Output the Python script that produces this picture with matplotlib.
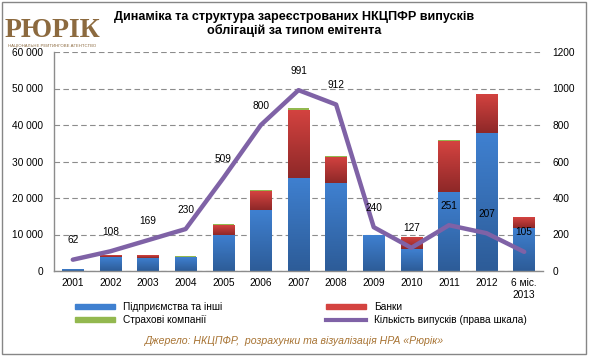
import numpy as np
import matplotlib
matplotlib.use("Agg")
import matplotlib.pyplot as plt
from matplotlib.colors import LinearSegmentedColormap
from matplotlib.patches import Rectangle
from matplotlib.lines import Line2D

plt.rcParams['font.family'] = ['Liberation Sans', 'DejaVu Sans']

# data
years = ['2001', '2002', '2003', '2004', '2005', '2006', '2007',
         '2008', '2009', '2010', '2011', '2012', '6 міс.\n2013']
firms = [450, 3800, 3650, 3700, 9900, 16700, 25500, 24000, 9800, 6000, 21600, 37700, 11800]
banks = [200, 500, 600, 250, 2700, 5200, 18700, 7200, 0, 3300, 13900, 10900, 3000]
insurers = [0, 100, 150, 150, 250, 300, 400, 350, 0, 0, 300, 0, 0]
issues = [62, 108, 169, 230, 509, 800, 991, 912, 240, 127, 251, 207, 105]

left_ticks = [0, 10000, 20000, 30000, 40000, 50000, 60000]
left_labels = ['0', '10 000', '20 000', '30 000', '40 000', '50 000', '60 000']
right_ticks = [0, 200, 400, 600, 800, 1000, 1200]

BLUE_TOP, BLUE_BOT = '#3F80D0', '#2D5C98'
RED_TOP, RED_BOT = '#D44340', '#8E2828'
GREEN = '#93B84F'
PURPLE = '#7F62A6'
BROWN = '#8C6A3F'
FS = 7.3


def gradient_bars(ax, bars, c_top, c_bot):
    cmap = LinearSegmentedColormap.from_list('g', [c_bot, c_top])
    for b in bars:
        x, y, w, h = b.get_x(), b.get_y(), b.get_width(), b.get_height()
        if h <= 0:
            continue
        im = ax.imshow(np.linspace(0, 1, 64).reshape(-1, 1), extent=[x, x + w, y, y + h],
                       origin='lower', cmap=cmap, aspect='auto', zorder=2)
        im.set_clip_path(b)
        b.set_facecolor('none')


fig = plt.figure(figsize=(5.89, 3.63), dpi=100)
ax = fig.add_axes([54 / 589, 1 - 271 / 363, (543 - 54) / 589, (271 - 52) / 363])

x = np.arange(len(years))
w = 0.57
firms = np.array(firms)
banks = np.array(banks)
insurers = np.array(insurers)

b1 = ax.bar(x, firms, w, color=BLUE_TOP, zorder=2, linewidth=0)
b2 = ax.bar(x, banks, w, bottom=firms, color=RED_TOP, zorder=2, linewidth=0)
b3 = ax.bar(x, insurers, w, bottom=firms + banks, color=GREEN, zorder=2, linewidth=0)
gradient_bars(ax, b1, BLUE_TOP, BLUE_BOT)
gradient_bars(ax, b2, RED_TOP, RED_BOT)

ax.set_xlim(-0.5, len(years) - 0.5)
ax.set_ylim(0, 60000)
ax.set_yticks(left_ticks)
ax.set_yticklabels(left_labels)
ax.set_xticks(x)
ax.set_xticklabels(years)
ax.tick_params(axis='y', length=0, pad=8, labelsize=FS)
ax.tick_params(axis='x', length=0, pad=5, labelsize=FS)
ax.grid(axis='y', color='#8c8c8c', linestyle=(0, (5, 3)), linewidth=0.8, zorder=0)
ax.set_axisbelow(True)
for s in ['top', 'right']:
    ax.spines[s].set_visible(False)
for s in ['left', 'bottom']:
    ax.spines[s].set_color('#8c8c8c')
    ax.spines[s].set_linewidth(1)

ax2 = ax.twinx()
ax2.plot(x, issues, color=PURPLE, lw=3.2, solid_joinstyle='round', solid_capstyle='round', zorder=3)
for i, v in enumerate(issues):
    ax2.annotate(str(v), (i, v), xytext=(0, 14), textcoords='offset points',
                 ha='center', va='center', fontsize=FS)
ax2.set_ylim(0, 1200)
ax2.set_yticks(right_ticks)
ax2.tick_params(axis='y', length=0, pad=7, labelsize=FS)
for s in ax2.spines.values():
    s.set_visible(False)

# title
fig.text(294 / 589, 1 - 24 / 363, 'Динаміка та структура зареєстрованих НКЦПФР випусків\nоблігацій за типом емітента',
         ha='center', va='center', fontsize=9.1, fontweight='bold', linespacing=1.1)

# logo text
fig.text(52 / 589, 1 - 37 / 363, 'РЮРІК', ha='center', va='baseline', fontsize=20,
         fontweight='bold', color=BROWN, family='Liberation Serif')
fig.text(52 / 589, 1 - 46 / 363, 'НАЦІОНАЛЬНЕ РЕЙТИНГОВЕ АГЕНТСТВО', ha='center', va='center',
         fontsize=3.1, color=BROWN)

# legend
handles = [Rectangle((0, 0), 1, 1, color=BLUE_TOP), Rectangle((0, 0), 1, 1, color=GREEN),
           Rectangle((0, 0), 1, 1, color=RED_TOP), Line2D([], [], color=PURPLE, lw=3)]
labels = ['Підприємства та інші', 'Страхові компанії', 'Банки', 'Кількість випусків (права шкала)']
fig.legend(handles, labels, ncol=2, frameon=False, fontsize=FS, loc='upper left',
           bbox_to_anchor=(70 / 589, 1 - 297 / 363), handlelength=3.9, handleheight=0.5,
           handletextpad=0.8, columnspacing=10.3, labelspacing=0.3, borderpad=0)

# source
fig.text(0.5, 1 - 341 / 363, 'Джерело: НКЦПФР,  розрахунки та візуалізація НРА «Рюрік»',
         ha='center', va='center', fontsize=7.6, style='italic', color='#A87434')

# border
fig.patches.append(Rectangle((1.5 / 589, 1 - 353.5 / 363), 584.5 / 589, 352 / 363,
                             transform=fig.transFigure, fill=False, edgecolor='#868686', lw=1))

fig.savefig('out.png', dpi=100)
